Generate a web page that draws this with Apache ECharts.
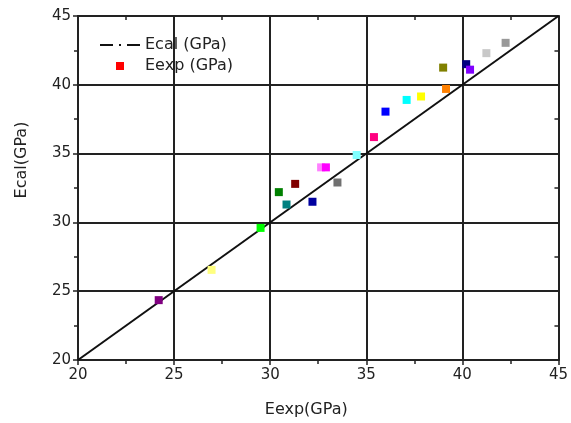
<!DOCTYPE html>
<html>
<head>
<meta charset="utf-8">
<script src="https://cdn.jsdelivr.net/npm/echarts@6/dist/echarts.min.js"></script>
<style>
  html, body { margin: 0; padding: 0; background: #fff; }
  #chart { width: 571px; height: 423px; }
</style>
</head>
<body>
<div id="chart"></div>
<script>
// Eexp (x) vs Ecal (y), one colour per sample
const expValues = [24.2, 26.95, 29.5, 30.45, 30.85, 31.3, 32.2, 32.65, 32.9, 33.5, 34.5, 35.4, 36.0, 37.1, 37.85, 39.15, 39.0, 40.2, 40.4, 41.25, 42.25];
const calValues = [24.35, 26.55, 29.6, 32.2, 31.3, 32.8, 31.5, 34.0, 34.0, 32.9, 34.9, 36.2, 38.05, 38.9, 39.15, 39.7, 41.25, 41.5, 41.1, 42.3, 43.05];
const pointColors = ["#800080", "#ffff80", "#00ff00", "#008000", "#008080", "#800000", "#0000a0", "#ff80ff", "#ff00ff", "#707070", "#80ffff", "#ff0080", "#0000ff", "#00ffff", "#ffff00", "#ff8000", "#808000", "#000080", "#8000ff", "#c8c8c8", "#999999"];
// y = x reference line
const lineX = [20, 45];
const lineY = [20, 45];
const tickValues = [20, 25, 30, 35, 40, 45];

const font = "DejaVu Sans";
const dark = "#222";
// dash-dot legend icon: dash, dot, dash
const dashDotIcon = "path://M0,0h13v2h-13zM19,0h2v2h-2zM27,0h13v2h-13z";

const chart = echarts.init(document.getElementById("chart"));

const baseAxis = {
  type: "value",
  min: tickValues[0],
  max: tickValues[tickValues.length - 1],
  interval: 5,
  axisLine: { show: true, onZero: false, lineStyle: { color: dark, width: 2 } },
  axisTick: { show: true, length: 5, lineStyle: { color: dark, width: 1.5 } },
  minorTick: { show: true, splitNumber: 2, length: 4, lineStyle: { color: dark, width: 1.5 } },
  axisLabel: { color: dark, fontSize: 15, fontFamily: font },
  splitLine: { show: true, lineStyle: { color: dark, width: 2 } }
};

const option = {
  animation: false,
  backgroundColor: "#fff",
  grid: { left: 78, right: 10, top: 16, bottom: 61 },
  legend: [
    {
      // line entry
      orient: "vertical",
      left: 100,
      top: 37,
      padding: 0,
      itemWidth: 40,
      itemHeight: 2,
      textStyle: { color: dark, fontSize: 16, fontFamily: font },
      data: [
        { name: "Ecal (GPa)", icon: dashDotIcon, itemStyle: { color: "#111" } }
      ]
    },
    {
      // scatter entry, small square icon
      orient: "vertical",
      left: 116,
      top: 58,
      padding: 0,
      itemWidth: 8,
      itemHeight: 8,
      textStyle: { color: dark, fontSize: 16, fontFamily: font, padding: [0, 0, 0, 16] },
      data: [
        { name: "Eexp (GPa)", icon: "rect", itemStyle: { color: "#ff0000" } }
      ]
    }
  ],
  xAxis: [
    Object.assign({}, baseAxis, {
      position: "bottom",
      name: "Eexp(GPa)",
      nameLocation: "middle",
      nameGap: 42,
      nameTextStyle: { color: dark, fontSize: 16, fontFamily: font, padding: [0, 24, 0, 0] },
      axisLabel: Object.assign({}, baseAxis.axisLabel, { margin: 8 })
    }),
    Object.assign({}, baseAxis, {
      position: "top",
      axisLabel: { show: false },
      axisTick: { show: false },
      minorTick: Object.assign({}, baseAxis.minorTick, { length: -4 }),
      splitLine: { show: false }
    })
  ],
  yAxis: [
    Object.assign({}, baseAxis, {
      position: "left",
      name: "Ecal(GPa)",
      nameLocation: "middle",
      nameGap: 48,
      nameTextStyle: { color: dark, fontSize: 16, fontFamily: font, padding: [0, 0, 0, 56] },
      axisLabel: Object.assign({}, baseAxis.axisLabel, { margin: 7 })
    }),
    Object.assign({}, baseAxis, {
      position: "right",
      axisLabel: { show: false },
      axisTick: { show: false },
      minorTick: Object.assign({}, baseAxis.minorTick, { length: -4 }),
      splitLine: { show: false }
    })
  ],
  series: [
    {
      name: "Ecal (GPa)",
      type: "line",
      symbol: "none",
      itemStyle: { color: "#111" },
      data: lineX.map((x, i) => [x, lineY[i]]),
      lineStyle: { color: "#111", width: 2 },
      z: 3
    },
    {
      name: "Eexp (GPa)",
      type: "scatter",
      symbol: "rect",
      symbolSize: 8,
      itemStyle: { color: "#ff0000", opacity: 1 },
      data: expValues.map((x, i) => ({
        value: [x, calValues[i]],
        itemStyle: { color: pointColors[i], opacity: 1 }
      })),
      z: 4
    }
  ]
};

chart.setOption(option);
</script>
</body>
</html>
